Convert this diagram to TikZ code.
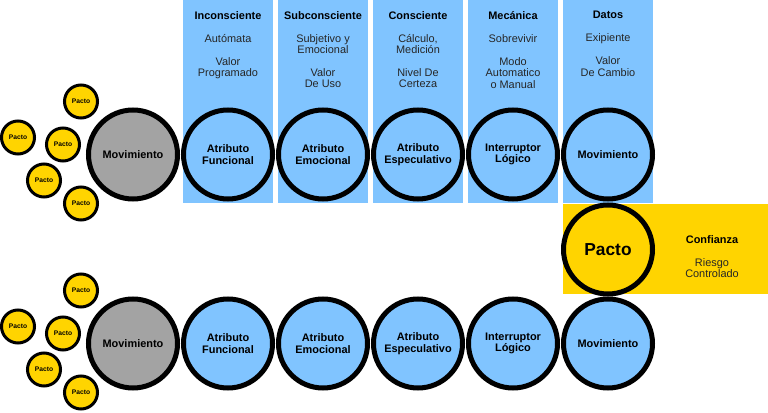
\documentclass[tikz,border=0pt]{standalone}
\usepackage{fontspec}
\setmainfont{Liberation Sans}
\usepackage{tikz}
\usetikzlibrary{positioning,calc}
\definecolor{colorblue}{HTML}{80C4FF}
\definecolor{coloryellow}{HTML}{FFD400}
\definecolor{colorgray}{HTML}{A3A3A3}
\newlength{\MapFigureUnit}
\setlength{\MapFigureUnit}{0.75pt}
\newcommand{\MapLabelFont}{\fontsize{8.2pt}{8.6pt}\selectfont}
\newcommand{\MapTinyFont}{\fontsize{5pt}{6pt}\selectfont}
\newcommand{\MapBigFont}{\fontsize{13pt}{15pt}\selectfont}

\begin{document}
\begin{tikzpicture}[x=\MapFigureUnit,y=-\MapFigureUnit]
    \tikzset{
        map column/.style={fill=colorblue, draw=none},
        map band/.style={fill=coloryellow, draw=none},
        map stage/.style={circle, draw=black, line width=3.75pt, fill=colorblue,
            minimum size=66.75pt, inner sep=0pt, align=center,
            font=\MapLabelFont\bfseries},
        map motion/.style={map stage, fill=colorgray},
        map pact/.style={circle, draw=black, line width=2.25pt, fill=coloryellow,
            minimum size=24.75pt, inner sep=0pt, font=\MapTinyFont\bfseries},
        map note/.style={align=center, anchor=north, inner sep=0pt,
            font=\MapLabelFont, text=black!85}
    }
    \useasboundingbox (0,0) rectangle (768,413);
    % columns above the top row
    \foreach \col/\head/\notes in {
        1/Inconsciente/{Autómata\\[8.6pt]Valor\\Programado},
        2/Subconsciente/{Subjetivo y\\Emocional\\[8.6pt]Valor\\De Uso},
        3/Consciente/{Cálculo,\\Medición\\[8.6pt]Nivel De\\Certeza},
        4/Mecánica/{Sobrevivir\\[8.6pt]Modo\\Automatico\\o Manual},
        5/Datos/{Exipiente\\[8.6pt]Valor\\De Cambio}} {
        \path[map column] ({88+\col*95},0) rectangle ++(90,203);
        \node[map note] (column-note-\col) at ({133+\col*95},11)
            {\textcolor{black}{\bfseries\head}\\[8.6pt]\notes};
    }
    \path[map band] (563,204) rectangle (768,294);
    \node[map stage, fill=coloryellow, font=\MapBigFont\bfseries] (pact-main) at (608,249.5) {Pacto};
    \node[map note] (pact-note) at (712,235)
        {\textcolor{black}{\bfseries Confianza}\\[8.6pt]Riesgo\\Controlado};
    \foreach \row/\rowy in {top/154.5,bottom/343.5} {
        \node[map motion] (\row-motion) at (133,\rowy) {Movimiento};
        \foreach \col/\label in {1/{Atributo\\Funcional},2/{Atributo\\Emocional},
            3/{Atributo\\Especulativo},4/{Interruptor\\Lógico},5/Movimiento} {
            \node[map stage] (\row-stage-\col) at ({133+\col*95},\rowy) {\label};
        }
        \foreach \k/\dx/\dy in {1/-52/-53,2/-115/-17,3/-70/-10,4/-89/26,5/-52/49} {
            \node[map pact] (\row-pact-\k) at ($(\row-motion.center)+(\dx,\dy)$) {Pacto};
        }
    }
\end{tikzpicture}
\end{document}
